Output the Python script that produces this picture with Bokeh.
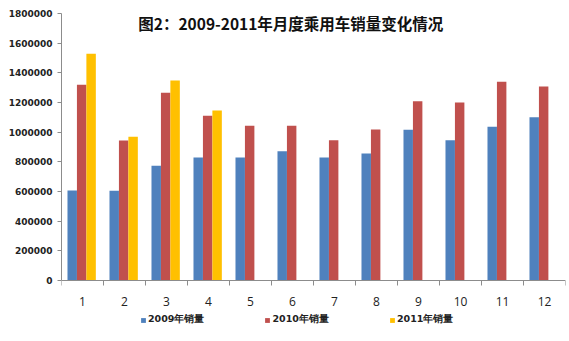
from bokeh.plotting import figure
from bokeh.models import (ColumnDataSource, FixedTicker, NumeralTickFormatter,
                          Legend, LegendItem, Label, Range1d)
from bokeh.transform import dodge
from bokeh.embed import file_html
from bokeh.resources import INLINE

months = list(range(1, 13))
month_labels = [str(m) for m in months]
sales_2009 = [607000, 605000, 773000, 829000, 829000, 872000, 829000, 856000, 1016000, 946000, 1036000, 1101000]
sales_2010 = [1320000, 944000, 1266000, 1110000, 1043000, 1043000, 946000, 1018000, 1209000, 1200000, 1340000, 1308000]
months_2011 = [1, 2, 3, 4]
sales_2011 = [1529000, 969000, 1349000, 1146000]
y_ticks = list(range(0, 1800001, 200000))
title_text = "图2：2009-2011年月度乘用车销量变化情况"
series_names = ["2009年销量", "2010年销量", "2011年销量"]
colors = ["#4F81BD", "#C0504D", "#FFC000"]

src_a = ColumnDataSource(dict(m=months, s09=sales_2009, s10=sales_2010))
src_b = ColumnDataSource(dict(m=months_2011, s11=sales_2011))

# frame spans down to the bottom of the canvas; value 0 sits 61 px above it
y_top = 1800000
y_bottom = -61 * y_top / 267.0

p = figure(width=569, height=341, output_backend="svg", toolbar_location=None,
           x_range=Range1d(0.5, 12.5), y_range=Range1d(y_bottom, y_top),
           min_border_left=61, min_border_right=4, min_border_top=13, min_border_bottom=0)
p.outline_line_color = None
p.xgrid.visible = False
p.ygrid.visible = False

bw = 0.225
r1 = p.vbar(x=dodge("m", -bw - 0.02, range=p.x_range), top="s09", width=bw, source=src_a,
            fill_color=colors[0], line_color=None)
r2 = p.vbar(x=dodge("m", -0.02, range=p.x_range), top="s10", width=bw, source=src_a,
            fill_color=colors[1], line_color=None)
r3 = p.vbar(x=dodge("m", bw - 0.02, range=p.x_range), top="s11", width=bw, source=src_b,
            fill_color=colors[2], line_color=None)

axis_color = "#8C8C8C"
xa = p.xaxis[0]
xa.fixed_location = 0
xa.ticker = FixedTicker(ticks=months, minor_ticks=[m - 0.5 for m in months] + [12.5])
xa.major_label_overrides = {m: l for m, l in zip(months, month_labels)}
xa.major_tick_line_color = None
xa.minor_tick_line_color = axis_color
xa.minor_tick_out = 5
xa.minor_tick_in = 0
xa.axis_line_color = axis_color
xa.major_label_text_font = "Open Sans"
xa.major_label_text_font_size = "12px"
xa.major_label_text_color = "#222222"
xa.major_label_standoff = 10

ya = p.yaxis[0]
ya.bounds = (0, y_top)
ya.ticker = FixedTicker(ticks=y_ticks)
ya.formatter = NumeralTickFormatter(format="0")
ya.axis_line_color = axis_color
ya.major_tick_line_color = axis_color
ya.major_tick_out = 4
ya.major_tick_in = 0
ya.minor_tick_line_color = None
ya.major_label_text_font = "DejaVu Sans"
ya.major_label_text_font_style = "bold"
ya.major_label_text_font_size = "9px"
ya.major_label_text_color = "#222222"
ya.major_label_standoff = 5

p.add_layout(Label(x=5.96, y=1734000, text=title_text, text_align="center",
                   text_baseline="middle", text_font="Noto Sans CJK SC",
                   text_font_style="bold", text_font_size="15.5px", text_color="#111111"))

legend = Legend(items=[LegendItem(label=series_names[0], renderers=[r1]),
                       LegendItem(label=series_names[1], renderers=[r2]),
                       LegendItem(label=series_names[2], renderers=[r3])],
                orientation="horizontal", location=(79, 15),
                glyph_width=6, glyph_height=6, label_standoff=2,
                spacing=60, padding=0, margin=0,
                border_line_color=None, background_fill_alpha=0,
                label_text_font="DejaVu Sans", label_text_font_style="bold",
                label_text_font_size="9.5px", label_text_color="#222222",
                label_height=10)
p.add_layout(legend, "center")

open("out.html", "w").write(file_html(p, INLINE))
